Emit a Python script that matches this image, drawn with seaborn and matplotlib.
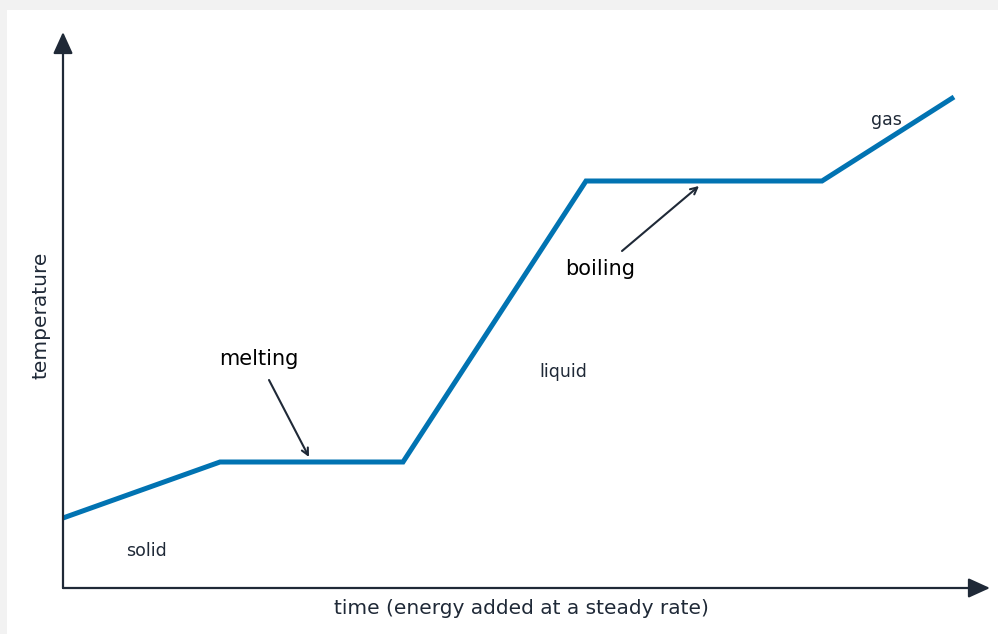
"""Heating curve: temperature against time while energy is added at a steady rate."""

import matplotlib
matplotlib.use("Agg")
import matplotlib.pyplot as plt
import seaborn as sns
import pandas as pd

# Corner points of the heating curve (relative units)
time = [0, 157, 340, 523, 759, 891]
temperature = [70, 126, 126, 407, 407, 491]

# Phase labels placed in the regions between the segments
phase_names = ["solid", "liquid", "gas"]
phase_time = [83, 500, 823]
phase_temp = [37, 216, 468]

# Annotated plateaus: label, label position, arrow tail, arrow tip
change_names = ["melting", "boiling"]
change_text = [(196, 229), (537, 319)]
change_tail = [(206, 208), (559, 337)]
change_tip = [(246, 131), (636, 402)]

LINE_BLUE = "#0173b2"
INK = "#1f2937"

sns.set_theme(style="white")
plt.rcParams["font.family"] = ["DejaVu Sans"]

fig = plt.figure(figsize=(9.98, 6.34), dpi=100)
fig.patch.set_facecolor("#f2f2f2")
# white card covering everything but a thin strip at the top and left
fig.patches.append(plt.Rectangle((7 / 998, 0), 1, 1 - 10 / 634, transform=fig.transFigure,
                                 facecolor="white", edgecolor="none", zorder=-5))

ax = fig.add_axes([63 / 998, 46 / 634, 927 / 998, 556 / 634])
ax.set_facecolor("none")
ax.set_xlim(0, 927)
ax.set_ylim(0, 556)

df = pd.DataFrame({"time": time, "temperature": temperature})
sns.lineplot(data=df, x="time", y="temperature", ax=ax, color=LINE_BLUE,
             linewidth=3.6, solid_capstyle="butt", solid_joinstyle="miter", sort=False)

# axes drawn as arrows
for s in ax.spines.values():
    s.set_visible(False)
for tip in [(1, 0), (0, 1)]:
    ax.annotate("", xy=tip, xytext=(0, 0), xycoords="axes fraction",
                arrowprops=dict(arrowstyle="-|>,head_length=1.1,head_width=0.5", color=INK,
                                lw=1.6, shrinkA=0, shrinkB=0))
ax.set_xticks([])
ax.set_yticks([])
ax.set_xlabel("time (energy added at a steady rate)", fontsize=14.5, color=INK)
ax.set_ylabel("temperature", fontsize=14.5, color=INK)
ax.xaxis.set_label_coords(0.494, -0.019)
ax.yaxis.set_label_coords(-0.014, 0.49)

for name, x, y in zip(phase_names, phase_time, phase_temp):
    ax.text(x, y, name, fontsize=12.5, color=INK, ha="center", va="center")

for name, txt, tail, tip in zip(change_names, change_text, change_tail, change_tip):
    ax.text(txt[0], txt[1], name, fontsize=15, color="black", ha="center", va="center")
    ax.annotate("", xy=tip, xytext=tail,
                arrowprops=dict(arrowstyle="->", color=INK, lw=1.5, shrinkA=0, shrinkB=0))

plt.savefig("out.png", dpi=100)
plt.close()
